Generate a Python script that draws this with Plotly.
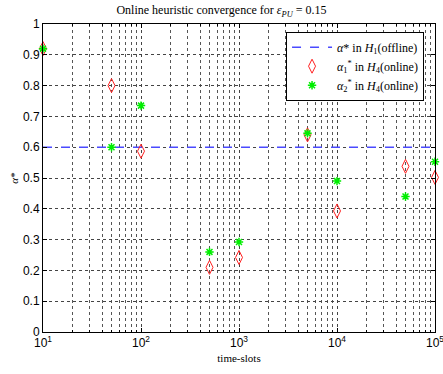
import plotly.graph_objects as go

# time-slot checkpoints and the heuristic's alpha estimates
time_slots = [10, 50, 100, 500, 1000, 5000, 10000, 50000, 100000]
alpha1_online = [0.92, 0.80, 0.587, 0.21, 0.242, 0.64, 0.393, 0.538, 0.502]
alpha2_online = [0.92, 0.60, 0.735, 0.26, 0.292, 0.645, 0.49, 0.44, 0.553]
alpha_offline = 0.6
x_range = [10, 100000]

x_tickvals = [10, 100, 1000, 10000, 100000]
x_ticktext = ["10<sup>1</sup>", "10<sup>2</sup>", "10<sup>3</sup>", "10<sup>4</sup>", "10<sup>5</sup>"]
x_minor = [m * d for d in (10, 100, 1000, 10000) for m in range(2, 10)]
y_tickvals = [0, 0.1, 0.2, 0.3, 0.4, 0.5, 0.6, 0.7, 0.8, 0.9, 1.0]
y_ticktext = ["0", "0.1", "0.2", "0.3", "0.4", "0.5", "0.6", "0.7", "0.8", "0.9", "1"]

serif = "Liberation Serif, DejaVu Serif, serif"
sans = "Liberation Sans, Arial, sans-serif"

fig = go.Figure()
fig.add_trace(go.Scatter(
    x=x_range, y=[alpha_offline, alpha_offline], mode="lines",
    line=dict(color="#4a4aff", width=1.5, dash="dash"),
    name="<i>α</i>* in <i>H</i><sub>1</sub>(offline)",
))
fig.add_trace(go.Scatter(
    x=time_slots, y=alpha1_online, mode="markers", cliponaxis=False,
    marker=dict(symbol="diamond-tall-open", size=10, color="#ff2020", line=dict(width=1)),
    name="<i>α</i><sub>1</sub><sup>*</sup> in <i>H</i><sub>4</sub>(online)",
))
fig.add_trace(go.Scatter(
    x=time_slots, y=alpha2_online, mode="markers", cliponaxis=False,
    marker=dict(symbol="asterisk-open", size=7, color="#00ee00", line=dict(width=1.5, color="#00ee00")),
    name="<i>α</i><sub>2</sub><sup>*</sup> in <i>H</i><sub>4</sub>(online)",
))

fig.update_layout(
    width=443, height=374,
    margin=dict(l=43, r=8, t=24, b=42),
    paper_bgcolor="white", plot_bgcolor="white",
    title=dict(
        text="Online heuristic convergence for <i>ε<sub>PU</sub></i> = 0.15",
        x=0.5, xanchor="center", y=0.985, yanchor="top",
        font=dict(family=serif, size=12, color="black"),
    ),
    showlegend=True,
    legend=dict(
        x=0.62, y=0.975, xanchor="left", yanchor="top",
        bgcolor="white", bordercolor="black", borderwidth=1,
        font=dict(family=serif, size=12, color="black"),
        tracegroupgap=5, itemwidth=40,
    ),
    xaxis=dict(
        type="log", range=[1, 5], automargin=False,
        tickmode="array", tickvals=x_tickvals, ticktext=x_ticktext,
        ticklabeloverflow="allow",
        ticks="inside", ticklen=4, tickcolor="black",
        showline=True, linecolor="black", linewidth=1, mirror="ticks",
        showgrid=True, gridcolor="#444444", griddash="dot", gridwidth=1,
        minor=dict(tickmode="array", tickvals=x_minor, showgrid=True, gridcolor="#555555",
                   griddash="dot", ticks="inside", ticklen=2, tickcolor="black"),
        zeroline=False,
        tickfont=dict(family=sans, size=12, color="black"),
        title=dict(text="time-slots", font=dict(family=serif, size=11, color="black"), standoff=4),
    ),
    yaxis=dict(
        range=[0, 1], tickmode="array", tickvals=y_tickvals, ticktext=y_ticktext,
        automargin=False,
        ticks="inside", ticklen=4, tickcolor="black",
        showline=True, linecolor="black", linewidth=1, mirror="ticks",
        showgrid=True, gridcolor="#444444", griddash="dot", gridwidth=1,
        zeroline=False,
        tickfont=dict(family=sans, size=12, color="black"),
        title=dict(text="<i>α</i>*", font=dict(family=serif, size=11, color="black"), standoff=2),
    ),
)

fig.write_html("out.html")
